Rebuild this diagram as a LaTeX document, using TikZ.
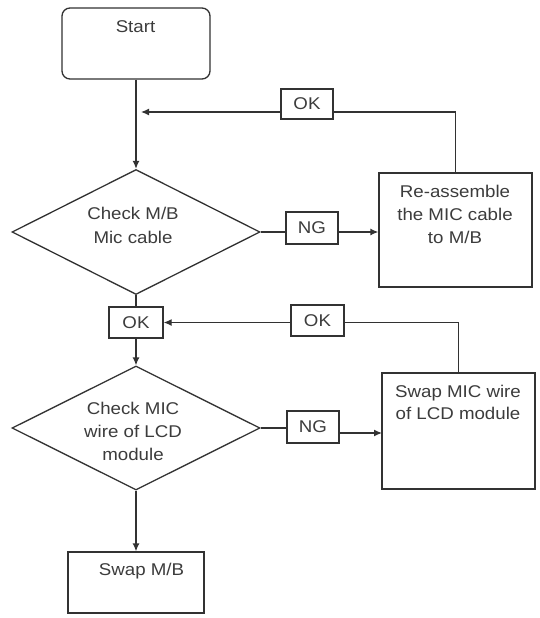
\documentclass[tikz,border=0pt]{standalone}
\usepackage{fontspec}
\setmainfont{Liberation Sans}[FakeStretch=1.1]
\usetikzlibrary{shapes.geometric,arrows.meta}
\definecolor{linec}{RGB}{50,50,50}
\definecolor{textc}{RGB}{60,60,60}
\begin{document}
\begin{tikzpicture}[x=1pt,y=-1pt,
  ln/.style={draw=linec, line width=1.3pt},
  arr/.style={ln, -{Latex[length=8pt,width=7pt]}},
  boxs/.style={draw=linec, line width=1.3pt, fill=white, inner sep=0pt},
  dia/.style={draw=linec, line width=1.3pt, shape=diamond, inner sep=0pt, fill=white},
  txt/.style={text=textc, font=\fontsize{17}{23}\selectfont, inner sep=0pt, align=center},
  lbl/.style={boxs, text=textc, font=\fontsize{17}{23}\selectfont}]
\useasboundingbox (0,0) rectangle (540,618);
\fill[white] (0,0) rectangle (540,618);

% nodes
\node[boxs, rounded corners=8pt, minimum width=148, minimum height=71] (start) at (136,43.5) {};
\node[txt, anchor=north] (starttxt) at (135.5,20) {Start};

\node[dia, minimum width=248, minimum height=125] (d1) at (136,232) {};
\node[txt, anchor=north] (d1txt) at (133,207) {Check M/B\\[1pt]Mic cable};

\node[lbl, minimum width=52, minimum height=30] (OK1) at (307,104) {OK};
\node[lbl, minimum width=52, minimum height=32] (NG1) at (312,228) {NG};

\node[boxs, minimum width=153, minimum height=114] (re) at (455.5,230) {};
\node[txt, anchor=north] (retxt) at (455,184.5) {Re-assemble\\the MIC cable\\to M/B};

\node[lbl, minimum width=54, minimum height=31] (OK2) at (136,322.5) {OK};
\node[lbl, minimum width=53, minimum height=31] (OK3) at (317.5,320.5) {OK};

\node[dia, minimum width=248, minimum height=124] (d2) at (136,428) {};
\node[txt, anchor=north] (d2txt) at (133,402) {Check MIC\\wire of LCD\\module};

\node[lbl, minimum width=52, minimum height=32] (NG2) at (313,427) {NG};

\node[boxs, minimum width=153, minimum height=116] (sw) at (458.5,431) {};
\node[txt, anchor=north] (swtxt) at (458,384.5) {Swap MIC wire\\[-1pt]of LCD module};

\node[boxs, minimum width=136, minimum height=61] (sm) at (136,582.5) {};
\node[txt, anchor=north] (smtxt) at (141.5,562.5) {Swap M/B};

% helper coordinates
\coordinate (m1) at (141,112);
\coordinate (m3) at (382,433);

% connectors
\draw[arr] (start.south) -- (d1.north);
\draw[ln] (re.north) |- (OK1.east |- m1);
\draw[arr] (OK1.west |- m1) -- (m1);
\draw[ln] (d1.east) -- (NG1.west |- d1.east);
\draw[arr] (NG1.east |- d1.east) -- (re.west |- d1.east);
\draw[ln] (d1.south) -- (OK2.north);
\draw[arr] (OK2.south) -- (d2.north);
\draw[ln] (sw.north) |- (OK3.east |- OK2.east);
\draw[arr] (OK3.west |- OK2.east) -- (OK2.east);
\draw[ln] (d2.east) -- (NG2.west |- d2.east);
\draw[arr] (NG2.east |- m3) -- (m3);
\draw[arr] (d2.south) -- (sm.north);
\end{tikzpicture}
\end{document}
